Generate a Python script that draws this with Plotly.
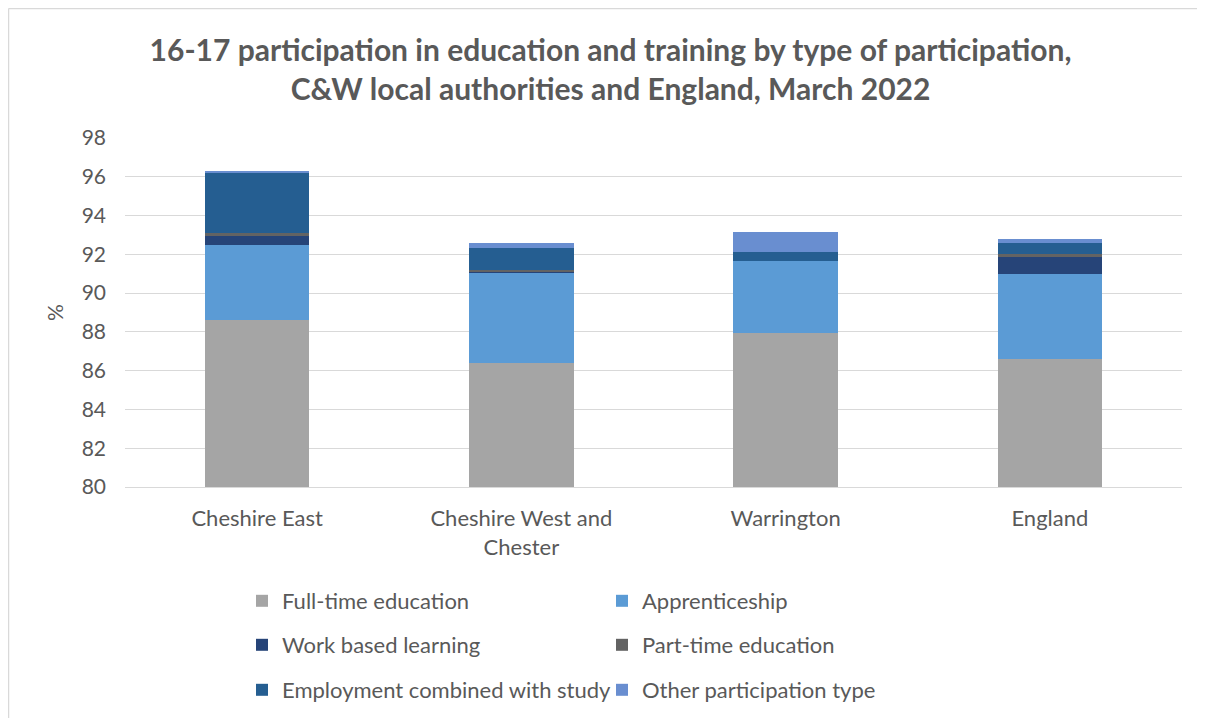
import plotly.graph_objects as go

categories = ["Cheshire East", "Cheshire West and<br>Chester", "Warrington", "England"]
full_time = [88.6, 86.4, 87.93, 86.6]
apprenticeship = [3.87, 4.62, 3.73, 4.39]
work_based = [0.5, 0.11, 0.0, 0.89]
part_time = [0.13, 0.05, 0.0, 0.12]
employment_study = [3.1, 1.16, 0.46, 0.6]
other = [0.1, 0.23, 1.05, 0.19]

series = [
    ("Full-time education", full_time, "#A5A5A5", "legend"),
    ("Apprenticeship", apprenticeship, "#5B9BD5", "legend"),
    ("Work based learning", work_based, "#264478", "legend2"),
    ("Part-time education", part_time, "#636363", "legend2"),
    ("Employment combined with study", employment_study, "#255E91", "legend3"),
    ("Other participation type", other, "#698ED0", "legend3"),
]

W, H = 1205, 718
OFF = 8  # page body margin
# plot area in page pixels
PL, PR, PT, PB = 125, 1182, 138, 487
L, R, T, B = PL - OFF, PR - OFF, PT - OFF, PB - OFF
pw, ph = R - L, B - T

def fx(px):  # figure px -> paper
    return (px - L) / pw

def fy(py):
    return (B - py) / ph

FONT = "Lato"
GREY = "#595959"

fig = go.Figure()
for name, vals, color, lg in series:
    fig.add_trace(go.Bar(
        x=categories, y=vals, name=name, marker_color=color,
        marker_line_width=0, legend=lg,
    ))

fig.update_layout(
    barmode="stack",
    width=W, height=H,
    margin=dict(l=L, r=W - R, t=T, b=H - B),
    paper_bgcolor="white", plot_bgcolor="white",
    bargap=0.605,
    font=dict(family=FONT, color=GREY, size=21),
    title=dict(
        text="16-17 participation in education and training by type of participation,<br>C&W local authorities and England, March 2022",
        x=0.5, xanchor="center", xref="container", y=1 - (61 - OFF) / H, yanchor="middle",
        font=dict(family=FONT, size=30, color=GREY, weight="bold"),
    ),
    yaxis=dict(
        range=[80, 98], dtick=2, tick0=80,
        showgrid=True, gridcolor="#D9D9D9", gridwidth=1,
        zeroline=False, showline=False,
        ticklabelstandoff=18,
        tickfont=dict(size=21, color=GREY, family=FONT),
        title=dict(text="%", standoff=12, font=dict(size=21, color=GREY, family=FONT)),
    ),
    xaxis=dict(
        showline=True, linecolor="#D9D9D9", linewidth=1,
        ticklabelstandoff=12,
        tickfont=dict(size=22, color=GREY, family=FONT),
    ),
)

legend_common = dict(
    orientation="h", xanchor="left", yanchor="middle",
    font=dict(size=22, color=GREY, family=FONT),
    entrywidth=315, entrywidthmode="pixels",
    bgcolor="rgba(0,0,0,0)", traceorder="normal",
)
lx = fx(234)
fig.update_layout(
    legend=dict(x=lx, y=fy(601 - 8), **legend_common),
    legend2=dict(x=lx, y=fy(645 - 8), **legend_common),
    legend3=dict(x=lx, y=fy(690 - 8), **legend_common),
)

# chart border (top and left edges visible)
fig.add_shape(type="line", xref="paper", yref="paper",
              x0=fx(0.5), x1=fx(W), y0=fy(0.5), y1=fy(0.5),
              line=dict(color="#D9D9D9", width=1.5))
fig.add_shape(type="line", xref="paper", yref="paper",
              x0=fx(0.5), x1=fx(0.5), y0=fy(0.5), y1=fy(H),
              line=dict(color="#D9D9D9", width=1.5))

fig.write_html("out.html")
